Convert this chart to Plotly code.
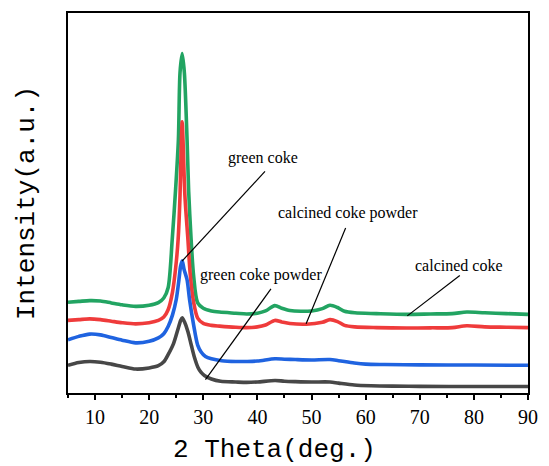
import plotly.graph_objects as go

# ---- data (2 theta in degrees, intensity in arbitrary units, stacked) ----
calcined_coke_x = [5, 7, 9, 11, 13, 15, 17.5, 20, 21.7, 22.7, 23.5, 24.26, 24.9, 25.4, 25.7, 26.1, 26.5, 27.0, 27.3, 27.75,
                   28.2, 28.96, 30, 31.5, 33, 36, 38, 40, 41.5, 43.2, 44.5, 46, 48, 50, 52, 53.4, 54.8, 56.1, 58, 62,
                   67.5, 72, 76, 78.7, 82, 86, 90]
calcined_coke_y = [23.9, 24.1, 24.3, 24.2, 23.7, 23.2, 22.8, 23.1, 23.8, 25.0, 27.7, 40.4, 54, 66.7, 84.3, 89.3, 84.3, 66.7, 53, 40.4,
                   31, 23.7, 22.3, 21.6, 21.3, 21.0, 20.8, 21.0, 21.6, 23.0, 22.3, 21.7, 21.5, 21.6, 22.2, 23.1, 22.5, 21.5, 21.1, 20.9,
                   20.7, 20.8, 20.9, 21.3, 21.1, 20.9, 20.7]

calcined_powder_x = [5, 7, 9, 11, 13, 15, 17.5, 20, 21.7, 22.7, 23.5, 24.3, 24.9, 25.35, 25.7, 25.95, 26.1, 26.25, 26.6, 27.16,
                     27.6, 28.2, 28.96, 30, 31.5, 33, 36, 38, 40, 41.5, 43.2, 44.5, 46, 49, 52, 53.4, 54.8, 56.1, 58, 62,
                     67.5, 72, 76, 78.7, 82, 86, 90]
calcined_powder_y = [19.1, 19.3, 19.5, 19.3, 18.9, 18.5, 18.2, 18.5, 19.1, 20.0, 21.9, 26.5, 33, 40.4, 52, 66.7, 71.4, 66.7, 52, 40.4,
                     31, 24, 19.7, 18.3, 17.8, 17.6, 17.3, 17.2, 17.4, 17.9, 19.1, 18.7, 18.3, 18.1, 18.6, 19.3, 18.8, 17.8, 17.4, 17.2,
                     17.1, 17.15, 17.2, 17.7, 17.4, 17.3, 17.2]

green_coke_x = [5, 7, 9, 11, 13, 15, 17.5, 20, 21.7, 22.7, 23.5, 24.3, 25.0, 25.5, 25.8, 26.1, 26.45, 27.0, 27.46, 28.2,
                28.96, 29.6, 30.4, 31.5, 33.4, 36, 38, 40, 43.25, 45, 47, 50, 53.4, 55, 57.9, 60, 63.5, 70, 80, 90]
green_coke_y = [14.0, 14.9, 15.5, 15.3, 14.6, 13.9, 13.2, 13.6, 14.5, 15.6, 17.5, 20.5, 24.6, 29.8, 33.3, 34.8, 32.5, 29.8, 24.6, 18.0,
                12.6, 10.8, 9.6, 9.0, 8.5, 8.3, 8.3, 8.4, 9.0, 8.9, 8.8, 8.7, 8.8, 8.5, 7.9, 7.6, 7.5, 7.4, 7.35, 7.3]

green_powder_x = [5, 7, 9, 11, 13, 15, 17.5, 20, 21.7, 22.7, 23.5, 24.5, 25.3, 25.8, 26.1, 26.5, 27.15, 27.8, 28.4, 29.0,
                  29.6, 30.2, 31.5, 33.2, 36, 38, 40, 43.25, 45, 47, 50, 53.4, 55, 57.9, 61, 65, 70, 80, 90]
green_powder_y = [7.3, 8.0, 8.3, 8.1, 7.6, 7.0, 6.3, 6.6, 7.2, 8.2, 10.1, 13.0, 16.7, 19.0, 19.8, 18.8, 16.2, 12.5, 9.2, 6.8,
                  5.4, 4.6, 3.7, 3.1, 2.9, 2.8, 2.9, 3.3, 3.1, 3.0, 2.9, 2.9, 2.6, 2.1, 1.9, 1.8, 1.75, 1.7, 1.7]

x_ticks = [10, 20, 30, 40, 50, 60, 70, 80, 90]

# labels: text, text position (x, y), leader line start (x, y) -> end on curve (x, y)
label_texts = ["green coke", "calcined coke powder", "green coke powder", "calcined coke"]
label_pos_x = [41.1, 56.8, 40.7, 77.2]
label_pos_y = [61.8, 47.4, 31.1, 33.5]
leader_x0 = [41.4, 56.3, 42.5, 77.4]
leader_y0 = [58.3, 43.4, 27.4, 30.9]
leader_x1 = [26.07, 49.0, 30.4, 67.7]
leader_y1 = [34.7, 18.2, 3.5, 20.3]

series = [
    ("calcined coke", calcined_coke_x, calcined_coke_y, "#22A462"),
    ("calcined coke powder", calcined_powder_x, calcined_powder_y, "#EF3B3B"),
    ("green coke", green_coke_x, green_coke_y, "#1F63E0"),
    ("green coke powder", green_powder_x, green_powder_y, "#474747"),
]

fig = go.Figure()
for name, xs, ys, col in series:
    fig.add_trace(go.Scatter(x=xs, y=ys, mode="lines", name=name,
                             line=dict(color=col, width=3.6, shape="spline", smoothing=0.8)))

for i, t in enumerate(label_texts):
    fig.add_shape(type="line", xref="x", yref="y",
                  x0=leader_x0[i], y0=leader_y0[i], x1=leader_x1[i], y1=leader_y1[i],
                  line=dict(color="black", width=1.2))
    fig.add_annotation(x=label_pos_x[i], y=label_pos_y[i], xref="x", yref="y", text=t,
                       showarrow=False, font=dict(family="Liberation Serif, Times New Roman, serif", size=16, color="black"))

fig.add_annotation(x=0.448, y=-0.15, xref="paper", yref="paper", text="2 Theta(deg.)",
                   showarrow=False, xanchor="center", yanchor="middle",
                   font=dict(family="Liberation Mono, Courier New, monospace", size=26, color="black"))

fig.update_layout(
    width=549, height=466,
    margin=dict(l=68, r=11, t=13, b=73),
    paper_bgcolor="white", plot_bgcolor="white",
    showlegend=False,
    xaxis=dict(range=[5, 90], tickvals=x_ticks, ticks="outside", ticklen=5, tickwidth=2, tickcolor="black",
               minor=dict(dtick=5, tick0=5, ticks="outside", ticklen=3, tickwidth=2, tickcolor="black"),
               showline=True, linewidth=2, linecolor="black", mirror=True, showgrid=False, zeroline=False,
               tickfont=dict(family="Liberation Serif, Times New Roman, serif", size=20, color="black")),
    yaxis=dict(range=[0, 100], showticklabels=False, ticks="", showline=True, linewidth=2, linecolor="black",
               mirror=True, showgrid=False, zeroline=False,
               title=dict(text="Intensity(a.u.)", standoff=24,
                          font=dict(family="Liberation Mono, Courier New, monospace", size=26, color="black"))),
)

fig.write_html("out.html")
